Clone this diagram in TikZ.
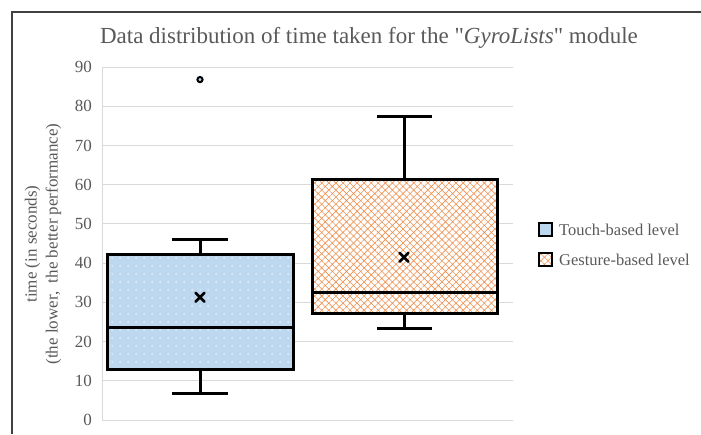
\documentclass[tikz,border=0pt]{standalone}
\usepackage{fontspec}
\setmainfont{Liberation Serif}
\usetikzlibrary{patterns.meta}
\definecolor{txt}{HTML}{595959}
\definecolor{gridc}{HTML}{D9D9D9}
\definecolor{bluefill}{HTML}{BDD7EE}
\definecolor{orng}{HTML}{ED7D31}
\newcommand\vy[1]{420-3.922*#1}
\tikzset{
  ticklbl/.style={anchor=east, text=txt, font=\fontsize{17}{17}\selectfont, inner sep=0pt},
  gridline/.style={draw=gridc, line width=1pt},
  boxline/.style={line width=3pt, draw=black},
  bluepat/.style={pattern={Dots[distance=8pt,radius=0.75pt]}, pattern color=white},
  orngpat/.style={pattern={Hatch[angle=45,distance=5pt,line width=0.6pt]}, pattern color=orng!85},
  meanmark/.style={line width=2.6pt, line cap=round},
  legtext/.style={anchor=west, text=txt, font=\fontsize{16.5}{16.5}\selectfont, inner sep=0pt},
}
\begin{document}
\begin{tikzpicture}[x=1pt,y=-1pt]
\useasboundingbox (0,0) rectangle (701,434);
% frame
\draw[line width=1.5pt, draw=black!75] (12,434) -- (12,12) -- (701,12);
% title
\node[text=txt, font=\fontsize{23}{23}\selectfont] (title) at (369,38) {Data distribution of time taken for the \textquotedbl\textit{GyroLists}\textquotedbl\ module};
% grid
\foreach \v in {10,20,...,90} {
  \draw[gridline] (102,{\vy{\v}}) -- (513,{\vy{\v}});
}
\draw[gridline] (102,{\vy{90}}) -- (102,420) -- (513,420);
\foreach \v in {0,10,...,90} {
  \node[ticklbl] (t\v) at (92,{\vy{\v}}) {\v};
}
% axis title
\node[rotate=90, text=txt, align=center, font=\fontsize{17}{21}\selectfont] (ytitle) at (43,244) {time (in seconds)\\(the lower,\ \ the better performance)};
% box 1 (touch)
\draw[boxline] (172,{\vy{46}}) -- (228,{\vy{46}});
\draw[boxline] (200,{\vy{46}}) -- (200,{\vy{42.2}});
\draw[boxline] (172,{\vy{6.7}}) -- (228,{\vy{6.7}});
\draw[boxline] (200,{\vy{6.7}}) -- (200,{\vy{13}});
\fill[bluefill] (107,{\vy{13}}) rectangle (293,{\vy{42.2}});
\fill[bluepat] (107,{\vy{13}}) rectangle (293,{\vy{42.2}});
\draw[boxline] (107,{\vy{13}}) rectangle (293,{\vy{42.2}});
\draw[boxline] (107,{\vy{23.5}}) -- (293,{\vy{23.5}});
\draw[meanmark] (195.5,{\vy{31.3}-4.5}) -- (204.5,{\vy{31.3}+4.5}) (195.5,{\vy{31.3}+4.5}) -- (204.5,{\vy{31.3}-4.5});
\draw[line width=2pt, fill=bluefill] (200,{\vy{86.8}}) circle (2.6);
% box 2 (gesture)
\draw[boxline] (377,{\vy{77.3}}) -- (432,{\vy{77.3}});
\draw[boxline] (404,{\vy{77.3}}) -- (404,{\vy{61.2}});
\draw[boxline] (377,{\vy{23.3}}) -- (432,{\vy{23.3}});
\draw[boxline] (404,{\vy{23.3}}) -- (404,{\vy{27.2}});
\fill[white] (312,{\vy{27.2}}) rectangle (497,{\vy{61.2}});
\fill[orngpat] (312,{\vy{27.2}}) rectangle (497,{\vy{61.2}});
\draw[boxline] (312,{\vy{27.2}}) rectangle (497,{\vy{61.2}});
\draw[boxline] (312,{\vy{32.5}}) -- (497,{\vy{32.5}});
\draw[meanmark] (399.5,{\vy{41.5}-4.5}) -- (408.5,{\vy{41.5}+4.5}) (399.5,{\vy{41.5}+4.5}) -- (408.5,{\vy{41.5}-4.5});
% legend
\fill[bluefill] (539,223) rectangle (552,236);
\draw[line width=2.5pt] (539,223) rectangle (552,236);
\fill[white] (539,253) rectangle (552,266);
\fill[orngpat] (539,253) rectangle (552,266);
\draw[line width=2.5pt] (539,253) rectangle (552,266);
\node[legtext] (leg1) at (559,229.5) {Touch-based level};
\node[legtext] (leg2) at (559,259.5) {Gesture-based level};
\end{tikzpicture}
\end{document}
